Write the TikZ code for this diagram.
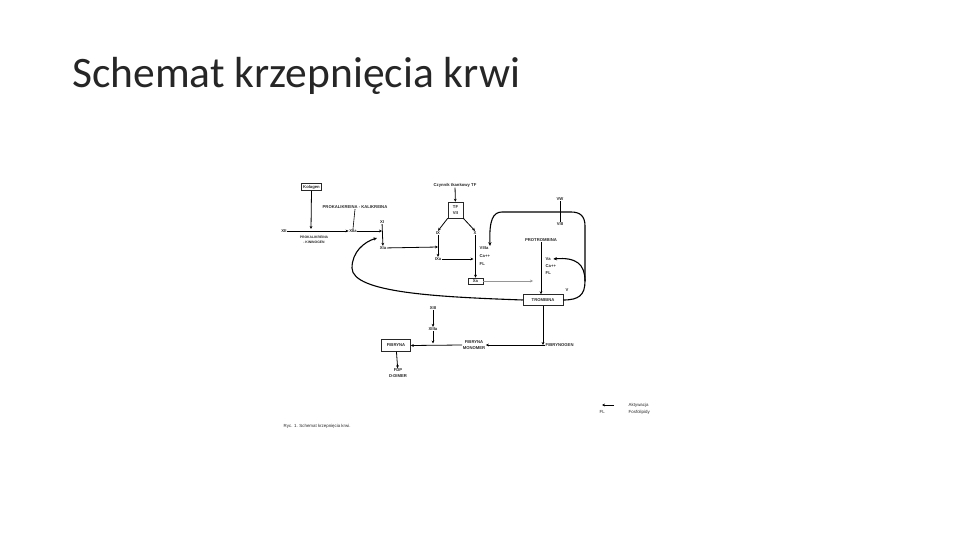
\documentclass[tikz,border=0pt]{standalone}
\usepackage{fontspec}
\setmainfont{Liberation Sans}
\newfontfamily\titlefont{Carlito}
\usetikzlibrary{arrows.meta, positioning, calc}
\definecolor{inkgray}{RGB}{40,40,40}
\definecolor{xaline}{RGB}{150,150,150}

\begin{document}
\begin{tikzpicture}[
    x=1pt, y=-1pt,
    lbl/.style={inner sep=0.5pt, text=inkgray, align=center,
                font=\fontsize{4.2}{5.2}\selectfont\bfseries},
    note/.style={inner sep=0.5pt, text=inkgray, anchor=west,
                 font=\fontsize{4.4}{5.2}\selectfont},
    box/.style={lbl, draw=inkgray, line width=0.5pt, inner sep=1.6pt},
    arrow/.style={-{Stealth[length=3pt,width=2.8pt]}, line width=0.8pt, black},
    link/.style={line width=0.6pt, black},
    loop/.style={-{Stealth[length=3.6pt,width=3.2pt]}, line width=1.1pt, black},
    thin/.style={-{Stealth[length=3pt,width=2.8pt]}, line width=0.4pt, xaline}
]
\useasboundingbox (0,0) rectangle (960,540);
\node[anchor=base west, inner sep=0, text=black!85,
      font=\titlefont\fontsize{43.5}{50}\selectfont]
    (title) at (72,88) {Schemat krzepnięcia krwi};

%% intrinsic pathway
\node[box] (kolagen) at (311.5,187) {Kolagen};
\node[lbl] (prokal) at (355,207) {PROKALIKREINA - KALIKREINA};
\node[lbl] (xii) at (284,231) {XII};
\node[lbl] (xiia) at (353,231) {XIIa};
\node[lbl, font=\fontsize{3.4}{4.6}\selectfont\bfseries] (kinin) at (314,240)
    {PROKALIKREINA\\- KININOGEN};
\node[lbl] (xi) at (382,222) {XI};
\node[lbl] (xia) at (383,248) {XIa};
\coordinate (xijoin) at (382,231);
\draw[arrow] (xii) -- (xiia);
\draw[arrow] (kolagen.south) -- (311,229);
\draw[link] (prokal.south) -- (xiia.north);
\draw[arrow] (xiia) -- (xijoin);
\draw[arrow] (xi) -- (xia);

%% extrinsic pathway
\node[lbl] (tf) at (455,185) {Czynnik tkankowy TF};
\node[box, minimum width=15pt, minimum height=16pt, inner sep=0.5pt] (tfvii) at (455.5,210)
    {TF\\VII};
\node[lbl] (ix) at (438,233) {IX};
\node[lbl] (x) at (475,233) {X};
\node[lbl] (ixa) at (438,259) {IXa};
\node[lbl, anchor=west] (viiia) at (479,248) {VIIIa};
\node[lbl, anchor=west] (ca8) at (479,256) {Ca++};
\node[lbl, anchor=west] (fl8) at (479,264) {FL};
\node[box, minimum width=15pt] (xa) at (475.5,281) {Xa};
\coordinate (ixjoin) at (438,247);
\coordinate (xjoin) at (473.5,259);
\draw[arrow] (tf) -- (tfvii);
\draw[arrow] (tfvii.south west) -- (ix.north);
\draw[arrow] (tfvii.south east) -- (x.north);
\draw[arrow] (xia) -- (ixjoin);
\draw[arrow] (ix) -- (ixa);
\draw[arrow] (ixa) -- (xjoin);
\draw[arrow] (x.south -| xa.north) -- (xa.north);

%% common pathway
\node[lbl] (vw) at (560,199) {VW};
\node[lbl] (viii) at (560,224) {VIII};
\node[lbl] (protr) at (541,240) {PROTROMBINA};
\node[lbl, anchor=west] (va) at (545,259) {Va};
\node[lbl, anchor=west] (ca5) at (545,266) {Ca++};
\node[lbl, anchor=west] (fl5) at (545,273) {FL};
\node[box, minimum width=40pt, minimum height=11pt] (trom) at (543,300) {TROMBINA};
\node[lbl] (v) at (567,290) {V};
\coordinate (tjoin) at (541,281);
\coordinate (vbranch) at (585,281);
\draw[link] (vw) -- (viii);
\draw[arrow] (protr.south) -- (protr.south |- trom.north);
\draw[thin] (xa) -- ([xshift=-8pt]tjoin);

%% feedback loops of thrombin
\draw[loop] (trom.east) .. controls (579,300) and (585,295) .. (vbranch)
    -- (585,226) .. controls (585,216) and (580,212) .. (571,212)
    -- (502,212) .. controls (493,212) and (489,220) .. ([xshift=6pt]viiia.north);
\draw[loop] (vbranch) .. controls (585,264) and (576,257) .. ([xshift=2pt]va.east);
\draw[loop] (trom.west) .. controls (440,297) and (352,293) .. (352,268)
    .. controls (352,252) and (364,242) .. (377,238);

%% fibrin
\node[lbl, anchor=west] (fibgen) at (545,345) {FIBRYNOGEN};
\node[lbl] (fibmon) at (474,345) {FIBRYNA\\MONOMER};
\node[lbl] (xiii) at (433,308) {XIII};
\node[lbl] (xiiia) at (433,329) {XIIIa};
\node[box, minimum width=29pt, minimum height=12pt] (fibryna) at (396,345.5) {FIBRYNA};
\node[lbl] (fdp) at (398,373) {FDP\\D-DIMER};
\coordinate (fjoin) at (trom.south |- fibgen.west);
\coordinate (xiiijoin) at (433,343.5);
\draw[arrow] (trom.south) -- (fjoin);
\draw[arrow] (fibgen.west) -- (fibmon.east);
\draw[arrow] (xiii) -- (xiiia);
\draw[arrow] (xiiia) -- (xiiijoin);
\draw[arrow] (fibmon.west) -- (fibryna.east);
\draw[arrow] (fibryna) -- (fdp);

%% legend and caption
\node[note] (akt) at (628,405) {Aktywacja};
\node[note] (fos) at (628,412) {Fosfolipidy};
\node[note] (flkey) at (599,412) {FL};
\coordinate (akey) at (602,405);
\draw[arrow, line width=0.6pt] ([xshift=-14pt]akt.west) -- (akey);
\node[note] (caption) at (283,426) {Ryc. 1. Schemat krzepnięcia krwi.};
\end{tikzpicture}
\end{document}
